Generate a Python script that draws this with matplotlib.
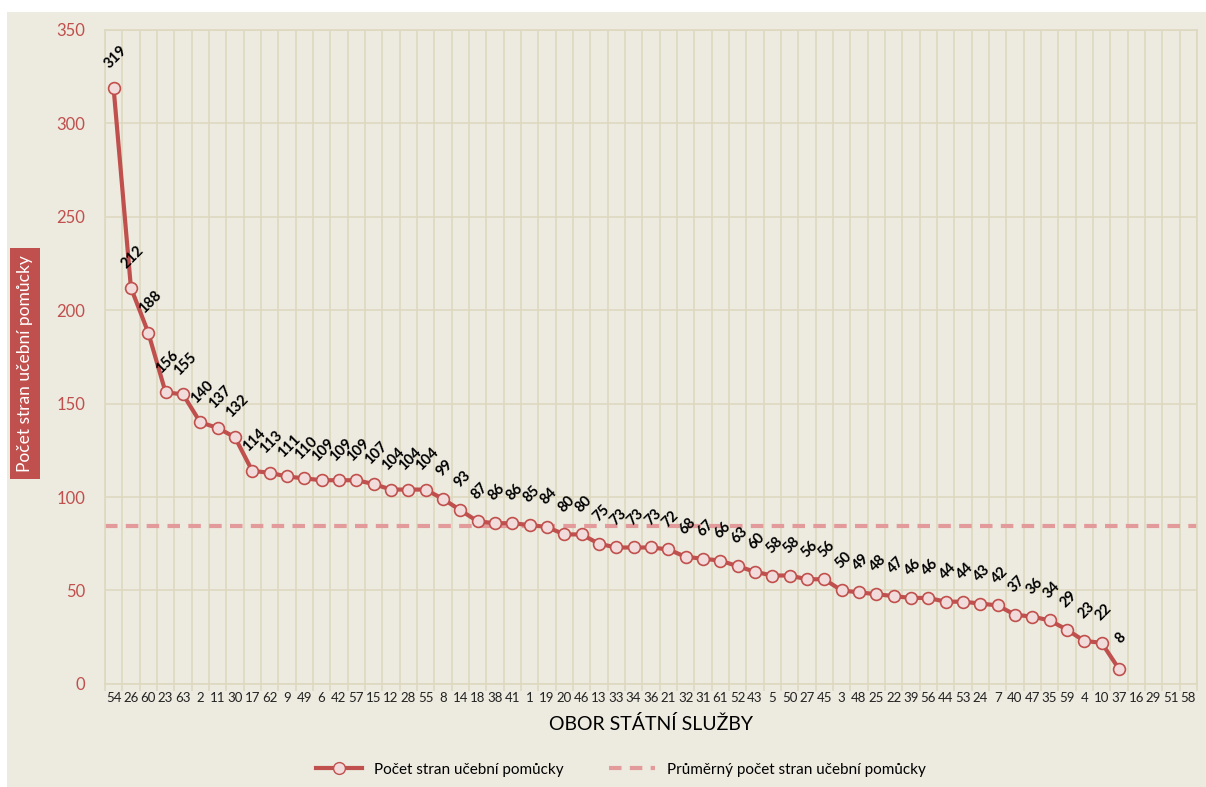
import matplotlib.pyplot as plt
from matplotlib.patches import Rectangle
from matplotlib.lines import Line2D

plt.rcParams['font.family'] = ['Lato', 'DejaVu Sans']

# kategorie (obory) a hodnoty
obory = ['54', '26', '60', '23', '63', '2', '11', '30', '17', '62', '9', '49', '6', '42', '57',
         '15', '12', '28', '55', '8', '14', '18', '38', '41', '1', '19', '20', '46', '13', '33',
         '34', '36', '21', '32', '31', '61', '52', '43', '5', '50', '27', '45', '3', '48', '25',
         '22', '39', '56', '44', '53', '24', '7', '40', '47', '35', '59', '4', '10', '37', '16',
         '29', '51', '58']
pocty = [319, 212, 188, 156, 155, 140, 137, 132, 114, 113, 111, 110, 109, 109, 109, 107, 104,
         104, 104, 99, 93, 87, 86, 86, 85, 84, 80, 80, 75, 73, 73, 73, 72, 68, 67, 66, 63, 60,
         58, 58, 56, 56, 50, 49, 48, 47, 46, 46, 44, 44, 43, 42, 37, 36, 34, 29, 23, 22, 8]
prumer = 84.4

cervena = '#C0504D'
ruzova = '#F2DCDB'
carkovana = '#E39A9A'
pozadi = '#EDEADF'
mrizka = '#DDD8BF'

fig = plt.figure(figsize=(12.06, 7.87), dpi=100, facecolor='white')
fig.patches.append(Rectangle((7 / 1206, 0), 1, 1 - 12 / 787, transform=fig.transFigure,
                             facecolor=pozadi, edgecolor='none', zorder=-10))

ax = fig.add_axes([0.087, 0.131, 0.9055, 0.831])
ax.set_facecolor(pozadi)

x = list(range(len(pocty)))
ax.axhline(prumer, color=carkovana, lw=3, ls=(0, (3, 2)), zorder=2)
ax.plot(x, pocty, color=cervena, lw=3, marker='o', ms=8.5, mfc=ruzova, mec=cervena,
        mew=1.2, zorder=3)

for xi, v in zip(x, pocty):
    ax.annotate(str(v), (xi, v), xytext=(1.5, 22), textcoords='offset points',
                ha='center', va='center', rotation=45, fontsize=10.5,
                fontweight='bold', color='black', zorder=4)

ax.set_xlim(-0.5, len(obory) - 0.5)
ax.set_ylim(0, 350)
ax.set_yticks(range(0, 351, 50))
ax.set_xticks(range(len(obory)))
ax.set_xticklabels(obory, fontsize=9.5, color='#222222')
ax.set_xticks([k + 0.5 for k in range(-1, len(obory))], minor=True)
ax.tick_params(axis='x', which='major', length=0, pad=6)
ax.tick_params(axis='x', which='minor', length=5, color=mrizka, width=1.2)
ax.tick_params(axis='y', length=0, labelsize=12, labelcolor=cervena, pad=14)
ax.grid(axis='y', color=mrizka, lw=1.2)
ax.grid(axis='x', which='minor', color=mrizka, lw=1.2)
ax.set_axisbelow(True)
for s in ax.spines.values():
    s.set_color(mrizka)
    s.set_linewidth(1.2)

ax.set_xlabel('OBOR STÁTNÍ SLUŽBY', fontsize=14, labelpad=8)
ax.set_ylabel('Počet stran učební pomůcky', fontsize=12.5, color='white',
              bbox=dict(boxstyle='square,pad=0.4', facecolor=cervena, edgecolor='none'))
ax.yaxis.set_label_coords(-0.066, 0.49)

handles = [
    Line2D([], [], color=cervena, lw=3, marker='o', ms=8.5, mfc=ruzova, mec=cervena),
    Line2D([], [], color=carkovana, lw=3, ls=(0, (3, 2))),
]
fig.legend(handles, ['Počet stran učební pomůcky', 'Průměrný počet stran učební pomůcky'],
           loc='center', bbox_to_anchor=(0.515, 0.022), ncol=2, frameon=False,
           fontsize=11, columnspacing=3, handlelength=3)

fig.savefig('out.png', dpi=100, facecolor=fig.get_facecolor())
